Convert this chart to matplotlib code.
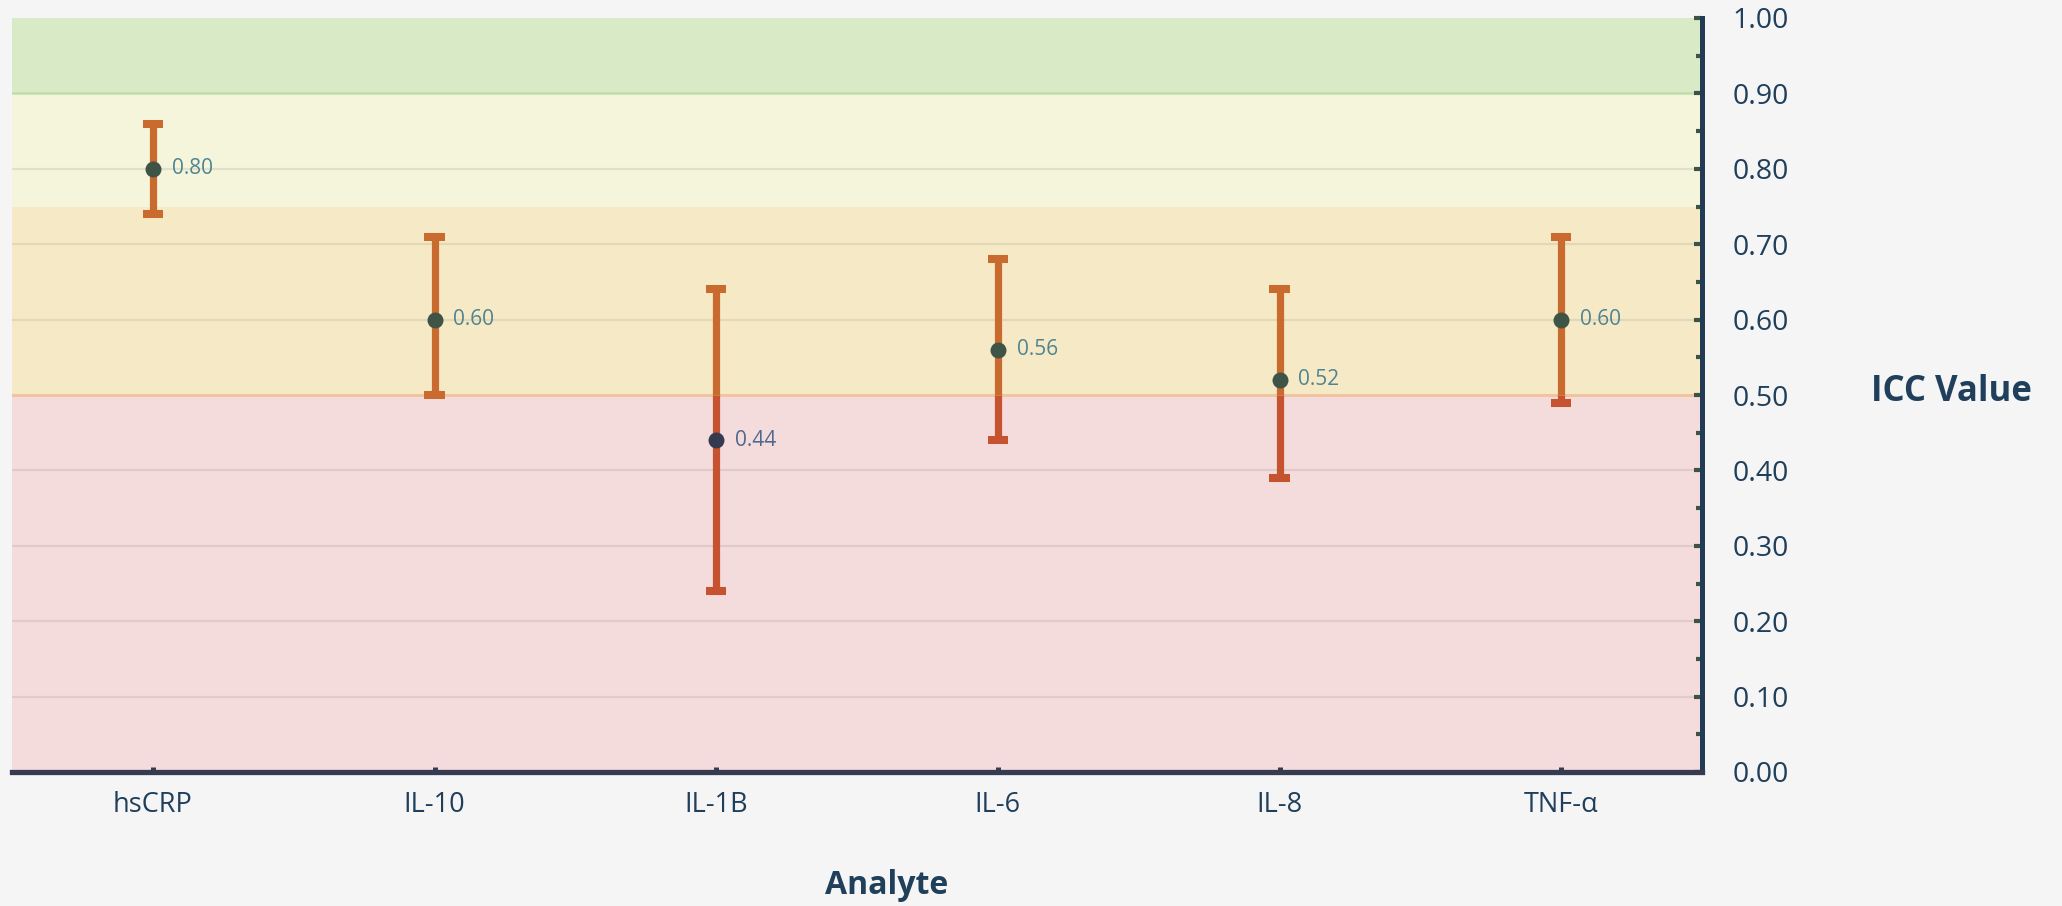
import matplotlib
matplotlib.use("Agg")
import matplotlib.pyplot as plt
from matplotlib.ticker import MultipleLocator, FormatStrFormatter

# ---- data ----
analytes = ["hsCRP", "IL-10", "IL-1B", "IL-6", "IL-8", "TNF-α"]
icc = [0.80, 0.60, 0.44, 0.56, 0.52, 0.60]
ci_low = [0.74, 0.50, 0.24, 0.44, 0.39, 0.49]
ci_high = [0.86, 0.71, 0.64, 0.68, 0.64, 0.71]

# reliability bands (lower, upper)
band_edges = [0.0, 0.5, 0.75, 0.9, 1.0]
band_colors = ["#F5DCDC", "#F6EAC6", "#F5F5DC", "#D8EAC6"]
split = 0.5

# ---- style ----
BG = "#F5F5F5"
NAVY = "#1F3F5B"
ORANGE = "#C96B2E"
RED = "#C5532F"
DOT_HI = "#3D5447"
DOT_LO = "#363A50"
TXT_HI = "#4F8492"
TXT_LO = "#50688F"
FONT = "Open Sans"

plt.rcParams["font.family"] = [FONT, "DejaVu Sans"]

fig = plt.figure(figsize=(20.62, 9.06), dpi=100, facecolor=BG)
ax = fig.add_axes([12 / 2062, 1 - 772 / 906, 1690 / 2062, 754 / 906])
ax.set_facecolor(BG)
ax.set_xlim(-0.5, len(analytes) - 0.5)
ax.set_ylim(0, 1)

for lo, hi, c in zip(band_edges[:-1], band_edges[1:], band_colors):
    ax.axhspan(lo, hi, color=c, lw=0, zorder=0)
ax.axhline(0.5, color="#F0C49E", lw=2.2, zorder=1)
ax.axhline(0.9, color="#C3DCAD", lw=1.8, zorder=1)
for g in [0.1, 0.2, 0.3, 0.4, 0.6, 0.7, 0.8]:
    ax.axhline(g, color="black", alpha=0.08, lw=1.6, zorder=1)

xs = range(len(analytes))
cap = 0.036
for x, v, lo, hi in zip(xs, icc, ci_low, ci_high):
    # lower part (below 0.5) drawn redder, upper part orange
    if lo < split:
        ax.vlines(x, lo, min(hi, split), color=RED, lw=5.2, zorder=3)
    if hi > split:
        ax.vlines(x, max(lo, split), hi, color=ORANGE, lw=5.2, zorder=3)
    ax.hlines(hi, x - cap, x + cap, color=ORANGE if hi >= split else RED,
              lw=5.8, zorder=3)
    ax.hlines(lo, x - cap, x + cap, color=ORANGE if lo >= split else RED,
              lw=5.8, zorder=3)
    hi_side = v >= split
    ax.plot(x, v, "o", ms=11.5, color=DOT_HI if hi_side else DOT_LO,
            mec="none", zorder=4)
    ax.annotate(f"{v:.2f}", (x, v), xytext=(13.5, 0), textcoords="offset points",
                ha="left", va="center", fontsize=15,
                color=TXT_HI if hi_side else TXT_LO, zorder=5)

# ---- axes ----
for s in ["left", "top"]:
    ax.spines[s].set_visible(False)
ax.spines["right"].set_color("#233A55")
ax.spines["right"].set_linewidth(3.6)
ax.spines["bottom"].set_color("#363B52")
ax.spines["bottom"].set_linewidth(3.8)

ax.yaxis.tick_right()
ax.yaxis.set_major_locator(MultipleLocator(0.1))
ax.yaxis.set_minor_locator(MultipleLocator(0.05))
ax.yaxis.set_major_formatter(FormatStrFormatter("%.2f"))
ax.tick_params(axis="y", which="major", direction="in", length=6, width=3,
               color="#3A5548", labelsize=20.5, labelcolor=NAVY, pad=22)
ax.tick_params(axis="y", which="minor", direction="in", length=4.5, width=3,
               color="#3A5548")

ax.set_xticks(list(xs))
ax.set_xticklabels(analytes)
ax.tick_params(axis="x", direction="in", length=3.5, width=3.6,
               color="#363B52", labelsize=19.5, labelcolor=NAVY, pad=14)

fig.text(1951 / 2062, 1 - 392 / 906, "ICC Value", ha="center", va="center",
         fontsize=25, fontweight="bold", color=NAVY)
fig.text(887 / 2062, 1 - 886 / 906, "Analyte", ha="center", va="center",
         fontsize=23, fontweight="bold", color=NAVY)

fig.savefig("out.png", dpi=100, facecolor=BG)
